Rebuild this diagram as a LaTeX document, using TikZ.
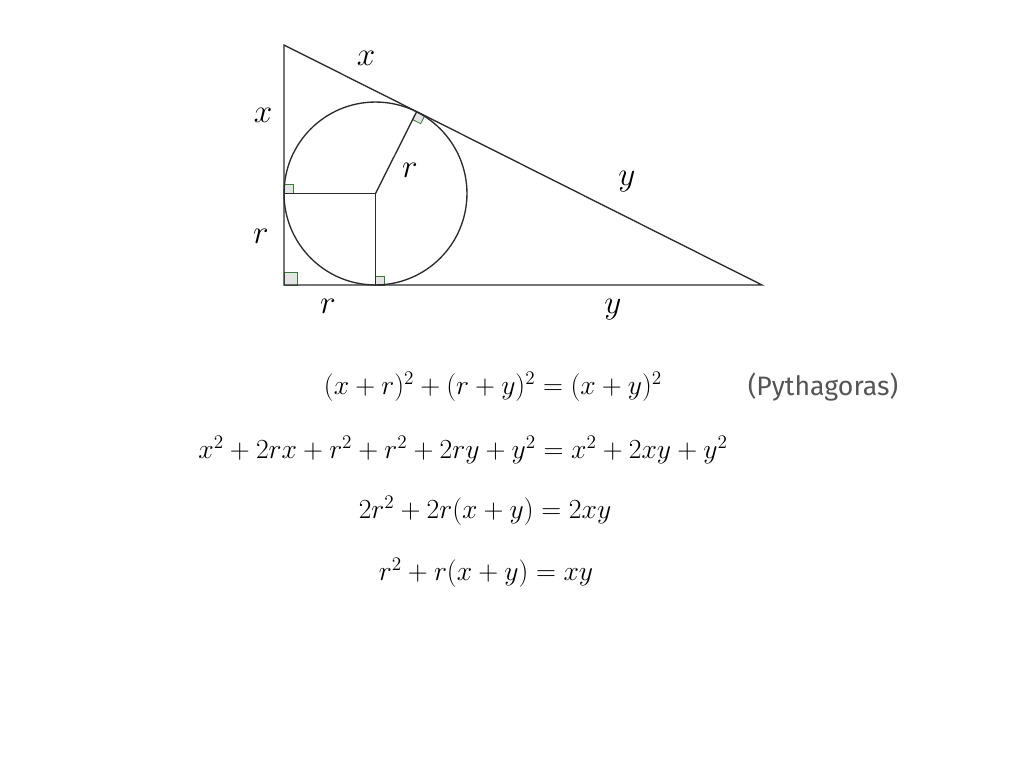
\documentclass[tikz,border=0pt]{standalone}
\usepackage{amsmath}
\usepackage{fontspec}
\newfontfamily\notefont{Fira Sans}
\usetikzlibrary{calc,positioning}
\definecolor{edgegray}{HTML}{2B2B2B}
\definecolor{markgreen}{HTML}{3C7A3C}
\definecolor{markfill}{HTML}{E4E4E4}
\definecolor{notegray}{HTML}{555555}
\tikzset{
    %Define style for the triangle and circle
    figline/.style={
           draw=edgegray,
           line width=1pt},
    %Define style for right angle marks
    rmark/.style={
           draw=markgreen,
           fill=markfill,
           line width=0.6pt},
    %Define style for side labels
    lbl/.style={
           font=\fontsize{33}{40}\selectfont,
           inner sep=0pt},
    %Define style for the equations
    eqn/.style={
           font=\fontsize{20.4}{24}\selectfont,
           inner sep=0pt}
}
\begin{document}
\begin{tikzpicture}[x=0.75pt,y=-0.75pt]
\useasboundingbox (0,0) rectangle (1024,768);
% vertices, centre and touching points
\coordinate (A) at (284,45);
\coordinate (C) at (284,285);
\coordinate (B) at (762,285);
\coordinate (O) at (375.5,193.5);
\coordinate (Tl) at (284,193.5);
\coordinate (Tb) at (375.5,285);
\coordinate (Th) at (416.7,111.6);
% right angle marks
\draw[rmark] (C) rectangle ++(13,-13);
\draw[rmark] (Tb) rectangle ++(9,-9);
\draw[rmark] (Tl) rectangle ++(9,-9);
\draw[rmark] (Th) -- ($(Th)!6.75pt!(O)$) -- ($($(Th)!6.75pt!(O)$)!6.75pt!-90:(Th)$) -- ($(Th)!6.75pt!90:(O)$) -- cycle;
% triangle, circle and radii
\draw[figline] (A) -- (C) -- (B) -- cycle;
\draw[figline] (O) circle (68.6pt);
\draw[figline] (Tl) -- (O) -- (Tb);
\draw[figline] (O) -- (Th);
% side labels
\node[lbl] (xtop) at (366,58) {$x$};
\node[lbl] (xleft) at (263,115) {$x$};
\node[lbl] (rrad) at (410,170) {$r$};
\node[lbl] (yhyp) at (627,182) {$y$};
\node[lbl] (rleft) at (261,236) {$r$};
\node[lbl] (rbot) at (328,306) {$r$};
\node[lbl] (ybot) at (613,310) {$y$};
% working
\node[eqn] (eq1) at (493,387) {$(x+r)^2+(r+y)^2=(x+y)^2$};
\node[eqn, text=notegray, font=\notefont\fontsize{20}{24}\selectfont] (note) at (823,387) {(Pythagoras)};
\node[eqn] (eq2) at (463,450) {$x^2+2rx+r^2+r^2+2ry+y^2=x^2+2xy+y^2$};
\node[eqn] (eq3) at (485,511) {$2r^2+2r(x+y)=2xy$};
\node[eqn] (eq4) at (486,573) {$r^2+r(x+y)=xy$};
\end{tikzpicture}
\end{document}
